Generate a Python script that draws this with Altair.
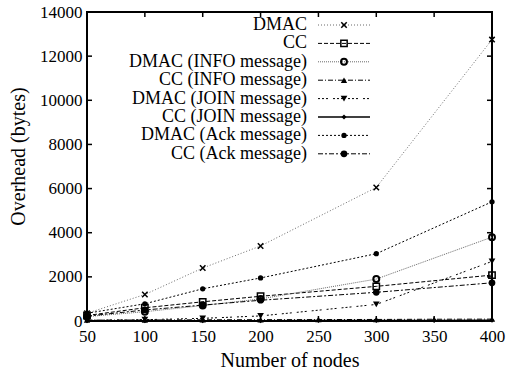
import altair as alt
import pandas as pd

# ---- data -------------------------------------------------------------
nodes = [50, 100, 150, 200, 300, 400]
nodes_all = [50, 100, 150, 200, 250, 300, 350, 400]

dmac = [350, 1200, 2400, 3400, 6050, 12750]
cc = [250, 600, 870, 1120, 1570, 2080]
dmac_info = [200, 420, 700, 1000, 1900, 3800]
cc_info = [40, 45, 55, 60, 65, 70, 80, 85]
dmac_join = [30, 60, 120, 230, 750, 2700]
cc_join = [10, 10, 15, 15, 20, 20, 25, 30]
dmac_ack = [350, 780, 1460, 1950, 3050, 5400]
cc_ack = [220, 500, 720, 940, 1300, 1730]

series_names = [
    "DMAC",
    "CC",
    "DMAC (INFO message)",
    "CC (INFO message)",
    "DMAC (JOIN message)",
    "CC (JOIN message)",
    "DMAC (Ack message)",
    "CC (Ack message)",
]
series_x = [nodes, nodes, nodes, nodes_all, nodes, nodes_all, nodes, nodes]
series_y = [dmac, cc, dmac_info, cc_info, dmac_join, cc_join, dmac_ack, cc_ack]

x_ticks = [50, 100, 150, 200, 250, 300, 350, 400]
y_ticks = [0, 2000, 4000, 6000, 8000, 10000, 12000, 14000]

# ---- styling ----------------------------------------------------------
FONT = "Liberation Serif"
W, H = 405, 309
X_PATH = "M-1,-1L1,1M-1,1L1,-1"

styles = [
    dict(color="#6a6a6a", dash=[1, 2], width=1, shape=X_PATH, filled=False, size=30, psw=1.5),
    dict(color="black", dash=[4, 2], width=1, shape="square", filled=False, size=40, psw=1.5),
    dict(color="#6a6a6a", dash=[1, 1], width=1, shape="circle", filled=False, size=35, psw=2),
    dict(color="black", dash=[5, 2, 1, 2], width=1, shape="triangle-up", filled=True, size=40, psw=1),
    dict(color="black", dash=[2, 2, 2, 2, 2, 5], width=1, shape="triangle-down", filled=True, size=45, psw=1),
    dict(color="black", dash=None, width=1.5, shape="diamond", filled=True, size=25, psw=1),
    dict(color="black", dash=[2, 2], width=1, shape="circle", filled=True, size=28, psw=1),
    dict(color="black", dash=[5, 2, 2, 2], width=1, shape="circle", filled=True, size=45, psw=1),
]

x_scale = alt.Scale(domain=[50, 400], nice=False, zero=False)
y_scale = alt.Scale(domain=[0, 14000], nice=False)

x_axis = alt.Axis(
    values=x_ticks, title="Number of nodes", grid=False, domain=False, ticks=False,
    labelFlush=False, labelOverlap=False,
    labelFont=FONT, labelFontSize=17, labelColor="black", labelPadding=7,
    titleFont=FONT, titleFontSize=20, titleFontWeight="normal", titleColor="black",
    titlePadding=6,
)
y_axis = alt.Axis(
    values=y_ticks, title="Overhead (bytes)", grid=False, domain=False, ticks=False,
    labelFlush=False, labelOverlap=False,
    format="d", labelFont=FONT, labelFontSize=17, labelColor="black", labelPadding=5,
    titleFont=FONT, titleFontSize=20, titleFontWeight="normal", titleColor="black",
    titleX=-69, titleY=144, titleAlign="center", titleBaseline="middle",
)


def xq(field):
    return alt.X(f"{field}:Q", scale=x_scale, axis=x_axis)


def yq(field):
    return alt.Y(f"{field}:Q", scale=y_scale, axis=y_axis)


layers = []

# series lines and markers
for name, xs, ys, st in zip(series_names, series_x, series_y, styles):
    df = pd.DataFrame({"nodes": xs, "overhead": ys})
    line_kw = dict(color=st["color"], strokeWidth=st["width"])
    if st["dash"]:
        line_kw["strokeDash"] = st["dash"]
    layers.append(alt.Chart(df).mark_line(**line_kw).encode(x=xq("nodes"), y=yq("overhead")))
    layers.append(
        alt.Chart(df)
        .mark_point(shape=st["shape"], filled=st["filled"], size=st["size"],
                    color="black", strokeWidth=st["psw"], opacity=1)
        .encode(x=xq("nodes"), y=yq("overhead"))
    )

# inward ticks on all four sides of the frame
xt = pd.DataFrame({"t": x_ticks})
yt = pd.DataFrame({"t": y_ticks})
TL = 5
layers.append(alt.Chart(xt).mark_rule(color="black", strokeWidth=1.5).encode(
    x=xq("t"), y=alt.value(H), y2=alt.value(H - TL)))
layers.append(alt.Chart(xt).mark_rule(color="black", strokeWidth=1.5).encode(
    x=xq("t"), y=alt.value(0), y2=alt.value(TL)))
layers.append(alt.Chart(yt).mark_rule(color="black", strokeWidth=1.5).encode(
    y=yq("t"), x=alt.value(0), x2=alt.value(TL)))
layers.append(alt.Chart(yt).mark_rule(color="black", strokeWidth=1.5).encode(
    y=yq("t"), x=alt.value(W - TL), x2=alt.value(W)))

# key, drawn inside the plot area
KEY_TEXT_X, KEY_L0, KEY_L1, KEY_TOP, KEY_STEP = 220, 231, 283, 13, 18.4
for i, (name, st) in enumerate(zip(series_names, styles)):
    ry = KEY_TOP + i * KEY_STEP
    kdf = pd.DataFrame({"label": [name]})
    layers.append(alt.Chart(kdf).mark_text(
        align="right", baseline="middle", font=FONT, fontSize=18, color="black"
    ).encode(x=alt.value(KEY_TEXT_X), y=alt.value(ry), text="label:N"))
    rule_kw = dict(color=st["color"], strokeWidth=st["width"])
    if st["dash"]:
        rule_kw["strokeDash"] = st["dash"]
    layers.append(alt.Chart(kdf).mark_rule(**rule_kw).encode(
        x=alt.value(KEY_L0), x2=alt.value(KEY_L1), y=alt.value(ry)))
    layers.append(alt.Chart(kdf).mark_point(
        shape=st["shape"], filled=st["filled"], size=st["size"],
        color="black", strokeWidth=st["psw"], opacity=1
    ).encode(x=alt.value((KEY_L0 + KEY_L1) / 2), y=alt.value(ry)))

chart = (
    alt.layer(*layers)
    .properties(
        width=W, height=H,
        autosize=alt.AutoSizeParams(type="none"),
        padding={"left": 87, "top": 12, "right": 15, "bottom": 61},
        background="white",
    )
    .configure(font=FONT)
    .configure_axis(labelFont=FONT, titleFont=FONT)
    .configure_text(font=FONT)
    .configure_view(stroke="black", strokeWidth=2)
)

chart.save("out.html", embed_options={"renderer": "svg", "actions": False})
